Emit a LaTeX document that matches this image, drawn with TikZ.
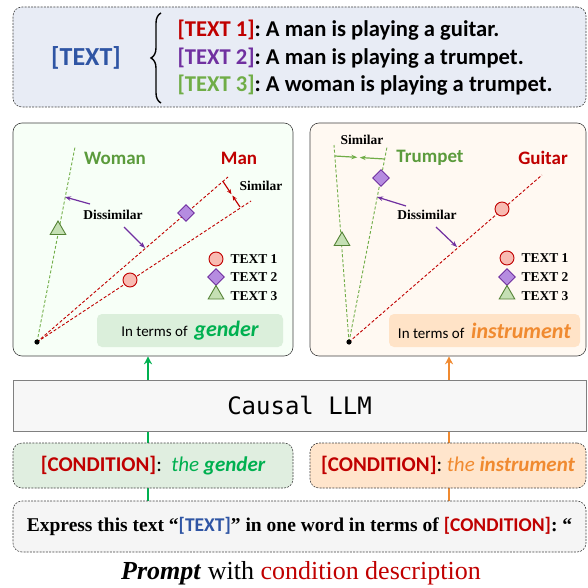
\documentclass[tikz,border=0pt]{standalone}
\usepackage{fontspec}
\setmainfont{Liberation Serif}
\newfontfamily\calib{Carlito}
\newfontfamily\llmfont{DejaVu Sans Mono}
\usetikzlibrary{arrows.meta,calc,backgrounds,shapes.geometric,decorations.pathreplacing}

\definecolor{txtblue}{HTML}{2F55A4}
\definecolor{cred}{HTML}{C00000}
\definecolor{cpurple}{HTML}{7030A0}
\definecolor{clgreen}{HTML}{70AD47}
\definecolor{cdgreen}{HTML}{5B9B3C}
\definecolor{cgreen}{HTML}{00B050}
\definecolor{corange}{HTML}{F08A30}
\definecolor{cpink}{HTML}{F8BBB2}
\definecolor{clav}{HTML}{B58CE0}
\definecolor{ctri}{HTML}{C5E0B4}
\definecolor{ctriline}{HTML}{548235}

\tikzset{
  box/.style={draw=black!75,rounded corners=9pt,inner sep=0pt,line width=0.6pt},
  dbox/.style={box,dashed,dash pattern=on 2pt off 1.2pt},
  gline/.style={clgreen,dash pattern=on 3pt off 2pt,line width=0.9pt},
  rline/.style={cred,dash pattern=on 3pt off 2pt,line width=0.9pt},
  parrow/.style={cpurple,line width=1.2pt,-{Stealth[length=6pt,width=4.5pt]}},
  circmark/.style={circle,draw=cred,fill=cpink,line width=0.9pt,minimum size=14pt,inner sep=0pt},
  dmdmark/.style={diamond,draw=cpurple,fill=clav,line width=0.9pt,minimum size=17pt,inner sep=0pt},
  trimark/.style={regular polygon,regular polygon sides=3,draw=ctriline,fill=ctri,line width=0.9pt,minimum size=18pt,inner sep=0pt},
  sertext/.style={font=\bfseries\fontsize{13.5}{15}\selectfont},
  axlabel/.style={font=\calib\bfseries\fontsize{19}{22}\selectfont},
  textline/.style={font=\calib\bfseries\fontsize{22.6}{24}\selectfont,anchor=west},
  flow/.style={line width=2.4pt,-{Stealth[length=8pt,width=8pt]}}
}

\begin{document}
\begin{tikzpicture}[x=1pt,y=-1pt]
\useasboundingbox (0,0) rectangle (587,588);

% --- top: the three texts ---
\node[dbox,fill=txtblue!11,minimum width=573pt,minimum height=100pt] (topbox) at (299.5,57) {};
\node[font=\calib\bfseries\fontsize{26}{30}\selectfont,text=txtblue] (textlab) at (86,58) {[TEXT]};
\draw[decorate,decoration={brace,amplitude=10pt},line width=1.4pt] (161,103) -- (161,13);
\node[textline] (t1) at (174,30) {\textcolor{cred}{[TEXT 1]}:~A man is playing a guitar.};
\node[textline] (t2) at (174,58) {\textcolor{cpurple}{[TEXT 2]}:~A man is playing a trumpet.};
\node[textline] (t3) at (174,85) {\textcolor{clgreen}{[TEXT 3]}:~A woman is playing a trumpet.};

% --- the two panels ---
\node[box,fill=black!2!green!3!white,minimum width=280pt,minimum height=233pt] (lpanel) at (153,239.5) {};
\node[box,fill=orange!5!white,minimum width=276pt,minimum height=233pt] (rpanel) at (448,239.5) {};
\node[rounded corners=5pt,fill=green!55!black!14,minimum width=186pt,minimum height=33pt] (lterm) at (190,330.5)
  {\calib\fontsize{15}{17}\selectfont In terms of~~\textcolor{cgreen}{\bfseries\itshape\fontsize{22}{24}\selectfont gender}};
\node[rounded corners=5pt,fill=orange!22,minimum width=191pt,minimum height=33pt] (rterm) at (484.5,330.5)
  {\calib\fontsize{15}{17}\selectfont In terms of~~\textcolor{corange}{\bfseries\itshape\fontsize{22}{24}\selectfont instrument}};

% gender space
\coordinate (o1) at (37,342);
\coordinate (w1) at (75,147);
\coordinate (m1) at (228,177);
\coordinate (m2) at (251,201);
\draw[gline] (o1) -- (w1);
\draw[rline] (o1) -- (m1);
\draw[rline] (o1) -- (m2);
\fill (o1) circle (2.6pt);
\node[axlabel,text=cdgreen] (woman) at (115,158) {Woman};
\node[axlabel,text=cred] (man) at (239,158) {Man};
\coordinate (sa1) at (223,181.5);
\coordinate (sb1) at (240,207);
\draw[cred,line width=1.2pt,-{Stealth[length=5pt,width=4pt]}] (sa1) -- ($(sa1)!0.5!(sb1)$);
\draw[cred,line width=1.2pt,-{Stealth[length=5pt,width=4pt]}] (sb1) -- ($(sa1)!0.55!(sb1)$);
\node[sertext] (sim1) at (261,186) {Similar};
\node[sertext] (dis1) at (113,215) {Dissimilar};
\draw[parrow] (90,204) -- (65,197);
\draw[parrow] (124,227) -- (145,248);
\node[trimark] (p3a) at (58,230) {};
\node[dmdmark] (p2a) at (186,213) {};
\node[circmark] (p1a) at (130,280) {};
\node[circmark] (lg1a) at (216,259) {};
\node[dmdmark] (lg2a) at (216,277) {};
\node[trimark] (lg3a) at (216,294.5) {};
\node[sertext,anchor=west] at (227,259) {TEXT 1};
\node[sertext,anchor=west] at (227,277) {TEXT 2};
\node[sertext,anchor=west] at (227,296) {TEXT 3};

% instrument space
\coordinate (o2) at (349,342);
\coordinate (ta) at (334,145);
\coordinate (tb) at (387,147);
\coordinate (g1) at (542,175);
\draw[gline] (o2) -- (ta);
\draw[gline] (o2) -- (tb);
\draw[rline] (o2) -- (g1);
\fill (o2) circle (2.6pt);
\node[axlabel,text=cdgreen] (trumpet) at (430,158) {Trumpet};
\node[axlabel,text=cred] (guitar) at (543,158) {Guitar};
\coordinate (sa2) at (335,156);
\coordinate (sb2) at (384.5,159);
\draw[clgreen,line width=1.2pt,-{Stealth[length=6pt,width=4.5pt]}] (sa2) -- ($(sa2)!0.45!(sb2)$);
\draw[clgreen,line width=1.2pt,-{Stealth[length=6pt,width=4.5pt]}] (sb2) -- ($(sa2)!0.5!(sb2)$);
\node[sertext] (sim2) at (362,140) {Similar};
\node[sertext] (dis2) at (427,215) {Dissimilar};
\draw[parrow] (406,206) -- (377,197);
\draw[parrow] (436,227) -- (457,247);
\node[trimark] (p3b) at (342,241) {};
\node[dmdmark] (p2b) at (381,178) {};
\node[circmark] (p1b) at (502,209) {};
\node[circmark] (lg1b) at (507,258) {};
\node[dmdmark] (lg2b) at (507,277) {};
\node[trimark] (lg3b) at (507,294.5) {};
\node[sertext,anchor=west] at (518,258) {TEXT 1};
\node[sertext,anchor=west] at (518,277) {TEXT 2};
\node[sertext,anchor=west] at (518,296) {TEXT 3};

% --- model and prompt ---
\node[draw=black!50,fill=black!3,line width=0.8pt,minimum width=573pt,minimum height=51pt] (llm) at (299.5,405.5)
  {\llmfont\fontsize{24}{26}\selectfont Causal LLM};
\node[dbox,fill=green!45!black!12,minimum width=280pt,minimum height=45pt] (lcond) at (153,465.5)
  {\calib\fontsize{21}{23}\selectfont\textcolor{cred}{\bfseries[CONDITION]}:~~\textcolor{cgreen}{\itshape the \bfseries gender}};
\node[dbox,fill=orange!20,minimum width=276pt,minimum height=45pt] (rcond) at (448,465.5)
  {\calib\fontsize{21}{23}\selectfont\textcolor{cred}{\bfseries[CONDITION]}:~\textcolor{corange}{\itshape the \bfseries instrument}};
\node[dbox,fill=black!4,minimum width=573pt,minimum height=51pt] (prompt) at (299.5,526.5)
  {\bfseries\fontsize{19.5}{22}\selectfont Express this text “{\calib\textcolor{txtblue}{[TEXT]}}” in one word in terms of {\calib\textcolor{cred}{[CONDITION]}}: “};
\node (caption) at (301,573)
  {\fontsize{26}{28}\selectfont\textbf{\textit{Prompt}} with \textcolor{cred}{condition description}};

\coordinate (gx) at (148,0);
\coordinate (ox) at (449,0);
\begin{pgfonlayer}{background}
\draw[flow,cgreen] (prompt.north -| gx) -- (lpanel.south -| gx);
\draw[flow,corange] (prompt.north -| ox) -- (rpanel.south -| ox);
\end{pgfonlayer}

\end{tikzpicture}
\end{document}
